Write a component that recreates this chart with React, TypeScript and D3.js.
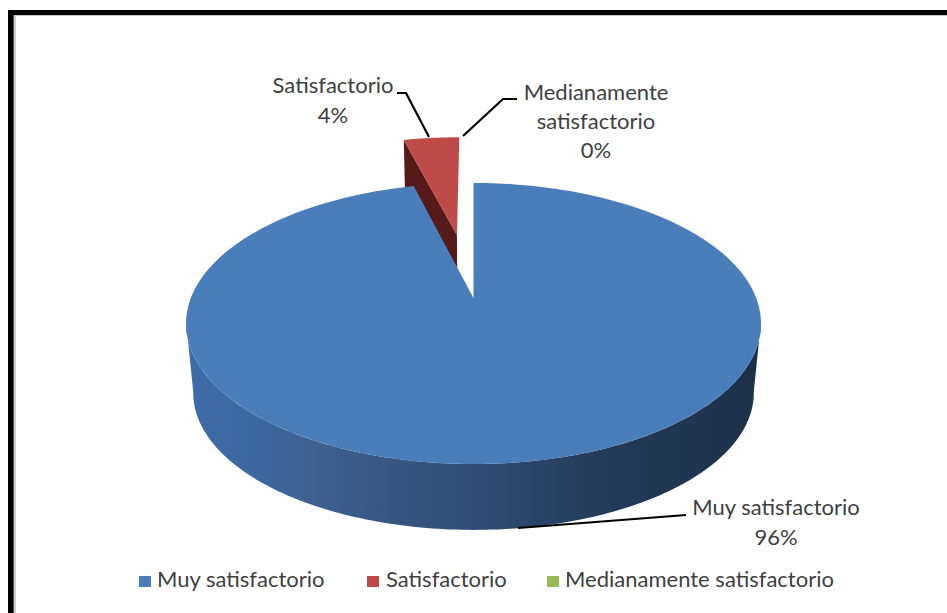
import React from "react";
import * as d3 from "d3";

const categories = ["Muy satisfactorio", "Satisfactorio", "Medianamente satisfactorio"];
const shares = [96, 4, 0];
const sliceColors = ["#4a7ebb", "#be4b48", "#98b954"];
const wallStops: [number, string][] = [
  [0, "#3f6ca8"],
  [0.12, "#3b68a0"],
  [0.22, "#3e6190"],
  [0.5, "#2f4d75"],
  [0.72, "#253b5a"],
  [1, "#1d3049"],
];
const redSideColor = "#561b19";

const W = 947;
const H = 613;
const FONT = "Lato, Carlito, sans-serif";
const TEXT = "#404040";

// Perspective view of the pie's plane: u runs left to right, v from back (-1) to front (+1).
const cx = 473.5;
const cy = 298;
const scaleU = 282.7;
const scaleV = 135.9;
const persp = -0.1815;
const thickness = 70;
const bottomScale = 0.975;
const explode = 0.51;

type Pt = [number, number];

const topPoint = (u: number, v: number): Pt => {
  const d = 1 + persp * v;
  return [cx + (scaleU * u) / d, cy + (scaleV * v) / d];
};
const bottomPoint = (u: number, v: number): Pt => {
  const d = 1 + persp * v;
  return [cx + (bottomScale * scaleU * u) / d, cy + thickness + (bottomScale * scaleV * v) / d];
};

const rim = (angle: number, du = 0, dv = 0): [number, number] => [
  du + Math.sin(angle),
  dv - Math.cos(angle),
];

const sample = (a0: number, a1: number, n = 120) =>
  d3.range(n + 1).map((i) => a0 + ((a1 - a0) * i) / n);

const toPath = d3.line<Pt>().x((p) => p[0]).y((p) => p[1]);

const arcs = d3.pie<number>().sort(null)(shares);

export default function App() {
  const blue = arcs[0];
  const red = arcs[1];

  // Blue top face
  const blueTop: Pt[] = [
    topPoint(0, 0),
    ...sample(blue.startAngle, blue.endAngle, 240).map((a) => topPoint(...rim(a))),
  ];

  // Blue outer wall, between the two widest points of the rim
  const frontAngles = sample(Math.PI * 0.555, Math.PI * 1.445, 160);
  const wall: Pt[] = [
    ...frontAngles.map((a) => topPoint(...rim(a))),
    ...[...frontAngles].reverse().map((a) => bottomPoint(...rim(a))),
  ];

  // Red slice, pulled out along its bisector
  const mid = (red.startAngle + red.endAngle) / 2;
  const du = explode * Math.sin(mid);
  const dv = -explode * Math.cos(mid);
  const redTop: Pt[] = [
    topPoint(du, dv),
    ...sample(red.startAngle, red.endAngle, 24).map((a) => topPoint(...rim(a, du, dv))),
  ];
  const [rimU, rimV] = rim(red.startAngle, du, dv);
  const redSide: Pt[] = [
    topPoint(rimU, rimV),
    topPoint(du, dv),
    bottomPoint(du, dv),
    bottomPoint(rimU, rimV),
  ];

  const legendSwatchY = 576;
  const legendTextY = 587;
  const legend = [
    { x: 139, tx: 157 },
    { x: 367, tx: 386 },
    { x: 547, tx: 565 },
  ];

  return (
    <svg
      width={W}
      height={H}
      style={{ position: "absolute", left: 0, top: 0, background: "#ffffff" }}
      fontFamily={FONT}
    >
      <defs>
        <linearGradient id="wallShade" gradientUnits="userSpaceOnUse" x1={187} x2={762} y1={0} y2={0}>
          {wallStops.map(([o, c]) => (
            <stop key={o} offset={o} stopColor={c} />
          ))}
        </linearGradient>
      </defs>

      {/* Frame: only the top and left edges are inside the page */}
      <rect x={14} y={15} width={2} height={598} fill="#d0d0d0" />
      <rect x={8} y={15} width={939} height={1} fill="#c8c8c8" />
      <rect x={8} y={10} width={939} height={5} fill="#000" />
      <rect x={8} y={10} width={5} height={603} fill="#000" />
      <rect x={13} y={15} width={1} height={598} fill="#555" />

      <path d={toPath(wall) + "Z"} fill="url(#wallShade)" />
      <path d={toPath(redSide) + "Z"} fill={redSideColor} />
      <path d={toPath(redTop) + "Z"} fill={sliceColors[1]} />
      <path d={toPath(blueTop) + "Z"} fill={sliceColors[0]} />

      <g fill="none" stroke="#000" strokeWidth={2.2}>
        <polyline points="397,93 406,93 429,137" />
        <polyline points="517,99 503,99 463,136" />
        <polyline points="686,515 518,528" />
      </g>

      <g fill={TEXT} fontSize={22} textAnchor="middle">
        <text x={333} y={93}>{categories[1]}</text>
        <text x={333} y={123}>{shares[1]}%</text>
        <text x={596} y={100}>Medianamente</text>
        <text x={596} y={129}>satisfactorio</text>
        <text x={596} y={158}>{shares[2]}%</text>
        <text x={776} y={515}>{categories[0]}</text>
        <text x={776} y={545}>{shares[0]}%</text>
      </g>

      {categories.map((name, i) => (
        <g key={name}>
          <rect x={legend[i].x} y={legendSwatchY} width={12} height={11} fill={sliceColors[i]} />
          <text x={legend[i].tx} y={legendTextY} fontSize={22} fill={TEXT}>{name}</text>
        </g>
      ))}
    </svg>
  );
}
